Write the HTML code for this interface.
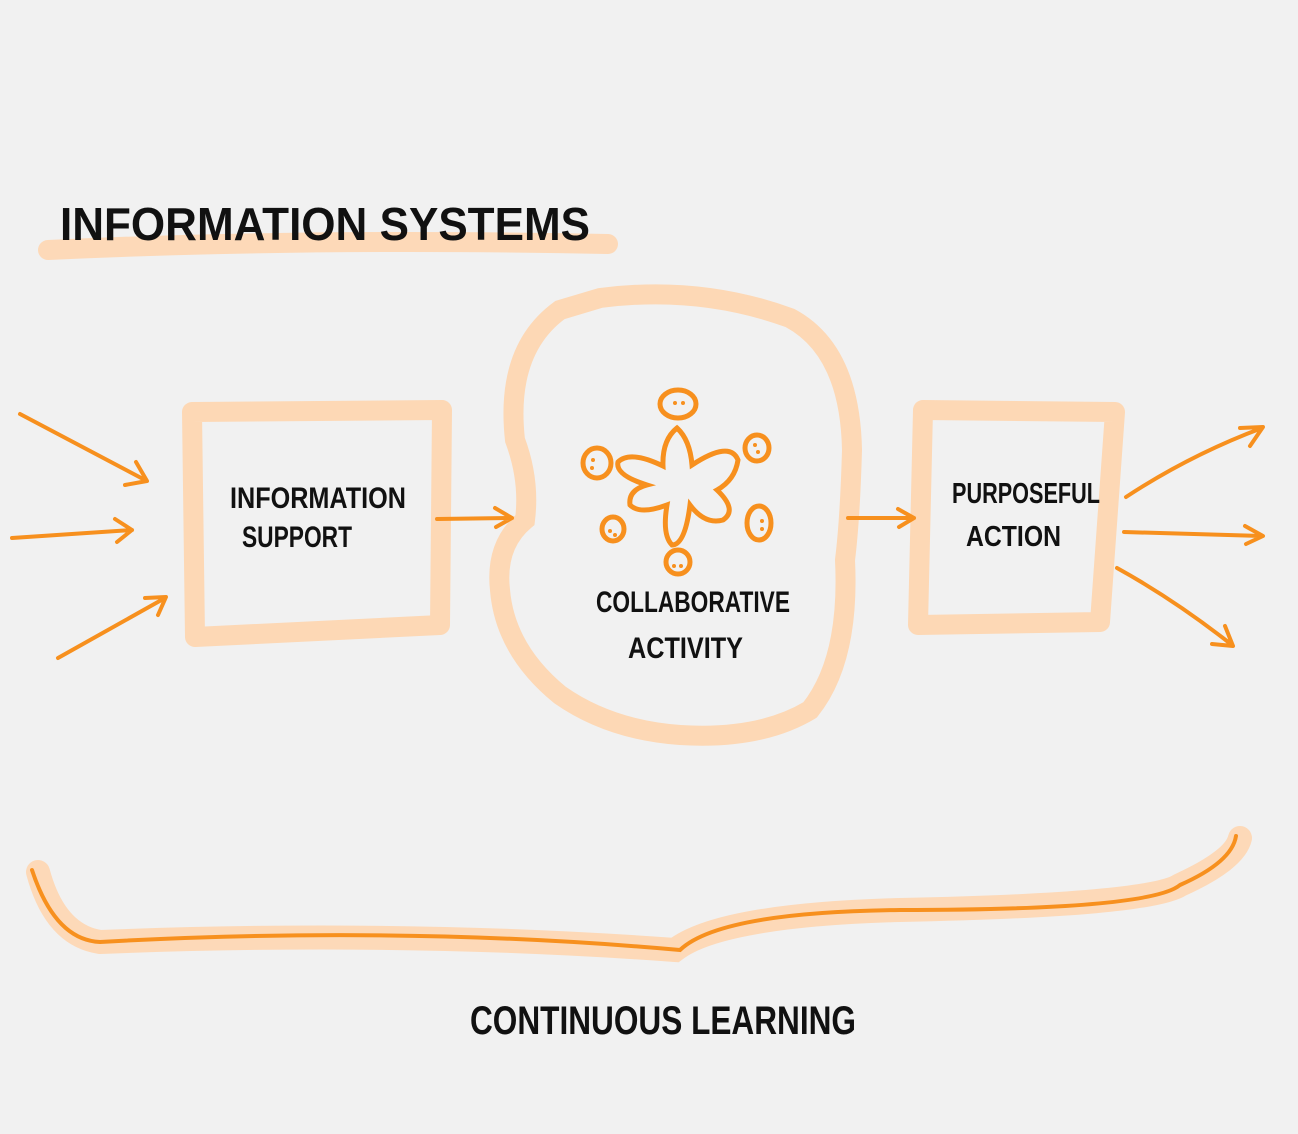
<!DOCTYPE html>
<html><head><meta charset="utf-8"><style>
html,body{margin:0;padding:0;background:#f1f1f1;}
svg{display:block}
text{font-family:"Liberation Sans Narrow","Liberation Sans",sans-serif;font-weight:bold;fill:#111;}
</style></head><body>
<svg width="1298" height="1134" viewBox="0 0 1298 1134" xmlns="http://www.w3.org/2000/svg">
<rect width="1298" height="1134" fill="#f1f1f1"/>
<!-- title -->
<path d="M48 250 Q300 238 608 244" stroke="#fdd9b8" stroke-width="20" fill="none" stroke-linecap="round"/>
<text x="60" y="240" font-size="46" textLength="530" lengthAdjust="spacingAndGlyphs">INFORMATION  SYSTEMS</text>
<!-- left box -->
<path d="M192 412 L442 410 L440 625 L195 637 Z" stroke="#fdd8b5" stroke-width="20" fill="none" stroke-linejoin="round"/>
<text x="230" y="508" font-size="30" textLength="176" lengthAdjust="spacingAndGlyphs">INFORMATION</text>
<text x="242" y="547" font-size="30" textLength="110" lengthAdjust="spacingAndGlyphs">SUPPORT</text>
<!-- right box -->
<path d="M923 410 L1115 412 L1100 622 L918 625 Z" stroke="#fdd8b5" stroke-width="20" fill="none" stroke-linejoin="round"/>
<text x="952" y="503" font-size="29" textLength="148" lengthAdjust="spacingAndGlyphs">PURPOSEFUL</text>
<text x="966" y="546" font-size="29" textLength="95" lengthAdjust="spacingAndGlyphs">ACTION</text>
<!-- blob -->
<path d="M600 298 Q700 285 790 318 Q850 350 852 450 Q850 520 845 560 Q850 660 810 710 Q760 740 680 735 Q610 730 560 695 Q505 650 500 590 Q495 545 525 520 Q530 480 515 440 Q505 350 560 310 Z" stroke="#fdd8b5" stroke-width="20" fill="none"/>
<text x="596" y="612" font-size="30" textLength="194" lengthAdjust="spacingAndGlyphs">COLLABORATIVE</text>
<text x="628" y="658" font-size="30" textLength="115" lengthAdjust="spacingAndGlyphs">ACTIVITY</text>
<!-- star and people -->
<g stroke="#f7901e" stroke-width="5" fill="none" stroke-linecap="round">
<path d="M677 428 Q690 440 692 465 Q730 440 738 460 Q735 480 717 490 Q738 510 723 520 Q705 525 690 505 Q685 545 672 545 Q662 535 667 505 Q640 515 630 505 Q628 490 647 485 Q615 475 618 462 Q630 450 663 466 Q662 440 677 428 Z"/>
<ellipse cx="678" cy="404" rx="18" ry="14"/>
<ellipse cx="597" cy="463" rx="14" ry="15"/>
<ellipse cx="757" cy="448" rx="12" ry="13"/>
<ellipse cx="613" cy="529" rx="11" ry="12"/>
<ellipse cx="759" cy="523" rx="12" ry="17"/>
<ellipse cx="678" cy="562" rx="12" ry="12"/>
</g>
<g fill="#f7901e">
<circle cx="675" cy="403" r="2"/><circle cx="683" cy="403" r="2"/>
<circle cx="593" cy="460" r="2"/><circle cx="592" cy="468" r="2"/>
<circle cx="755" cy="445" r="2"/><circle cx="758" cy="452" r="2"/>
<circle cx="610" cy="531" r="2"/><circle cx="615" cy="535" r="2"/>
<circle cx="762" cy="521" r="2"/><circle cx="762" cy="529" r="2"/>
<circle cx="674" cy="566" r="2"/><circle cx="681" cy="566" r="2"/>
</g>
<!-- arrows -->
<g stroke="#f7901e" stroke-width="4" fill="none" stroke-linecap="round" stroke-linejoin="round">
<path d="M20 414 L145 480 M125 485 L147 481 L136 462"/>
<path d="M12 538 L132 530 M115 519 L132 530 L117 542"/>
<path d="M58 658 L165 598 M145 598 L166 597 L158 615"/>
<path d="M437 519 L512 518 M495 508 L512 518 L496 527"/>
<path d="M848 518 L914 518 M898 509 L914 518 L899 527"/>
<path d="M1126 497 Q1190 455 1262 428 M1240 428 L1263 427 L1250 446"/>
<path d="M1124 532 L1262 536 M1245 526 L1263 536 L1246 544"/>
<path d="M1117 568 Q1175 600 1232 645 M1225 626 L1233 646 L1212 644"/>
</g>
<!-- brace -->
<path d="M38 872 Q55 935 100 942 Q400 930 675 950 Q720 915 900 910 Q1150 905 1180 885 Q1235 860 1240 838" stroke="#fdd9b8" stroke-width="24" fill="none" stroke-linecap="round"/>
<path d="M32 870 Q55 940 100 942 Q400 925 680 950 Q720 912 900 910 Q1150 910 1180 885 Q1232 862 1236 836" stroke="#f7901e" stroke-width="4" fill="none" stroke-linecap="round"/>
<text x="470" y="1034" font-size="40" textLength="386" lengthAdjust="spacingAndGlyphs">CONTINUOUS  LEARNING</text>
</svg>
</body></html>
